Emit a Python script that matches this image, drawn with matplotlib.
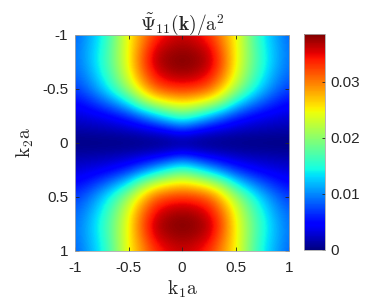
import numpy as np
import matplotlib
matplotlib.use("Agg")
import matplotlib.pyplot as plt

plt.rcParams["font.family"] = ["Liberation Sans", "DejaVu Sans"]
plt.rcParams["mathtext.fontset"] = "cm"
plt.rcParams["axes.unicode_minus"] = False

# grid points (k1 a, k2 a) for one quadrant, step 0.125 from 0 to 1
k_pos = [0, 0.125, 0.25, 0.375, 0.5, 0.625, 0.75, 0.875, 1.0]

# values, x 1e-3 ; rows: k2 = 0..1, cols: k1 = 0..1
psi_q = [
    [0.0, 0.0, 0.0, 0.0, 0.0, 0.0, 0.0, 0.0, 0.0],
    [6.5, 5.0, 3.8, 3.0, 2.4, 2.0, 1.8, 1.6, 1.5],
    [17.0, 15.0, 12.0, 9.0, 6.5, 5.0, 4.0, 3.5, 3.0],
    [26.0, 25.0, 23.0, 19.5, 14.0, 10.5, 8.0, 6.0, 4.8],
    [33.0, 32.5, 31.0, 26.5, 21.0, 16.0, 12.0, 9.0, 7.0],
    [37.0, 36.5, 34.5, 30.0, 24.0, 18.5, 14.0, 10.5, 8.5],
    [38.5, 38.0, 36.5, 31.5, 25.0, 19.5, 15.0, 11.5, 9.0],
    [37.5, 37.0, 35.5, 30.5, 25.0, 19.5, 14.5, 11.5, 9.0],
    [36.0, 35.0, 33.0, 29.0, 25.0, 19.0, 14.0, 11.0, 8.5],
]

xticks = [-1, -0.5, 0, 0.5, 1]
xtick_labels = ["-1", "-0.5", "0", "0.5", "1"]
cticks = [0, 0.01, 0.02, 0.03]
ctick_labels = ["0", "0.01", "0.02", "0.03"]
vmax = 0.0385

# mirror the quadrant to the full plane
q = np.array(psi_q) * 1e-3
half = np.hstack([q[:, :0:-1], q])
Z = np.vstack([half[:0:-1, :], half])
h = k_pos[1] - k_pos[0]

fig = plt.figure(figsize=(3.87, 3.07), dpi=100)
ax = fig.add_axes([0.194, 0.183, 0.553, 0.703])
im = ax.imshow(Z, cmap="jet", vmin=0, vmax=vmax, interpolation="bicubic",
               extent=(-1 - h / 2, 1 + h / 2, 1 + h / 2, -1 - h / 2), aspect="auto")
ax.set_xlim(-1, 1)
ax.set_ylim(1, -1)

gray = "#262626"
ax.set_xticks(xticks)
ax.set_xticklabels(xtick_labels)
ax.set_yticks(xticks)
ax.set_yticklabels(xtick_labels)
ax.tick_params(direction="in", length=3, width=0.6, top=True, right=True,
               labelsize=11, colors=gray)
ax.tick_params(axis="x", pad=7)
ax.tick_params(axis="y", pad=5)
for s in ax.spines.values():
    s.set_color("#aaaaaa")
    s.set_linewidth(0.6)

ax.set_xlabel(r"$\mathrm{k_1 a}$", fontsize=14, color=gray, labelpad=3)
ax.set_ylabel(r"$\mathrm{k_2 a}$", fontsize=14, color=gray, labelpad=4)
ax.set_title(r"$\tilde{\Psi}_{11}(\mathbf{k})/\mathrm{a}^2$", fontsize=14, color=gray, pad=4)

cax = fig.add_axes([0.786, 0.186, 0.054, 0.703])
cb = fig.colorbar(im, cax=cax, ticks=cticks)
cb.ax.set_yticklabels(ctick_labels)
cb.ax.tick_params(direction="in", length=2, width=0.6, labelsize=11, colors=gray, pad=4)
cb.outline.set_edgecolor("#aaaaaa")
cb.outline.set_linewidth(0.6)

plt.savefig("out.png", dpi=100)
